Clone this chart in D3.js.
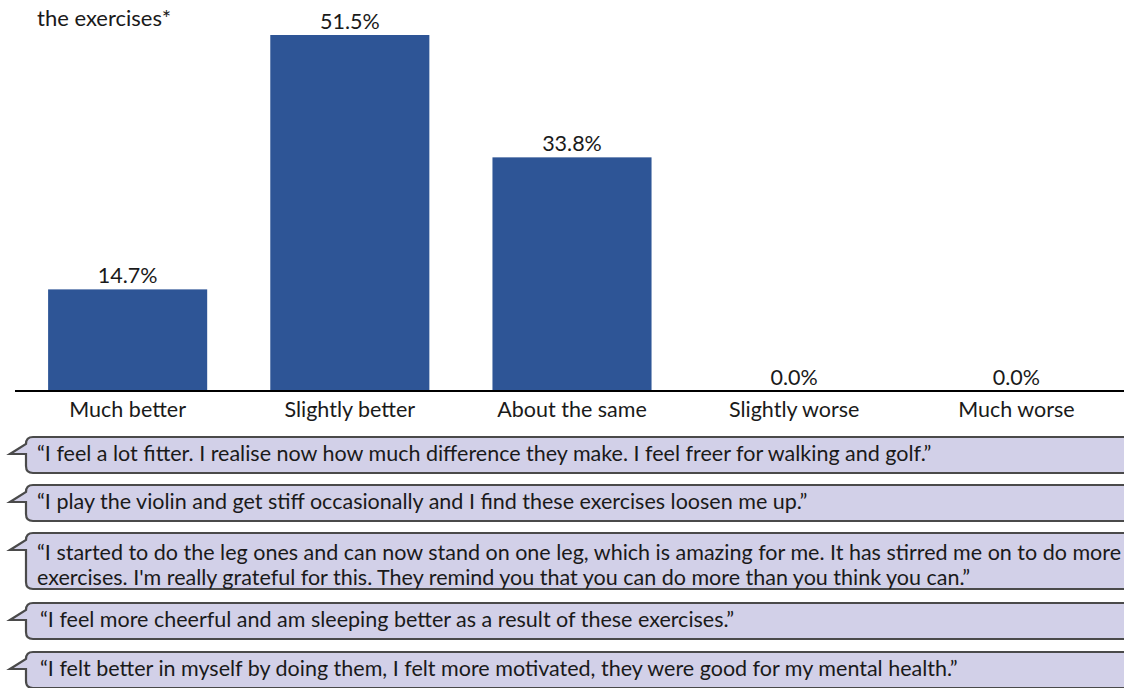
<!DOCTYPE html>
<html lang="en">
<head>
  <meta charset="UTF-8">
  <title>Perceived change after the exercises</title>
  <script src="https://d3js.org/d3.v7.min.js"></script>
  <style>
    body { margin: 0; background: #fff; }
    text { font-family: Lato, "Open Sans", sans-serif; fill: #1a1a1a; }
  </style>
</head>
<body>
  <div id="chart"></div>
  <script>
    // chart values
    const categories = ["Much better", "Slightly better", "About the same", "Slightly worse", "Much worse"];
    const percents = [14.7, 51.5, 33.8, 0.0, 0.0];
    const titleText = "the exercises*";

    // quotes shown in the speech bubbles (one array entry per line)
    const quotes = [
      ["\u201CI feel a lot fitter. I realise now how much difference they make. I feel freer for walking and golf.\u201D"],
      ["\u201CI play the violin and get stiff occasionally and I find these exercises loosen me up.\u201D"],
      ["\u201CI started to do the leg ones and can now stand on one leg, which is amazing for me. It has stirred me on to do more",
       "exercises. I'm really grateful for this. They remind you that you can do more than you think you can.\u201D"],
      ["\u201CI feel more cheerful and am sleeping better as a result of these exercises.\u201D"],
      ["\u201CI felt better in myself by doing them, I felt more motivated, they were good for my mental health.\u201D"]
    ];
    const bubbleTops = [437, 485, 533, 603, 652];

    const W = 1124, H = 688;
    const fs = "21.5px";
    const svg = d3.select("#chart").append("svg")
      .attr("width", W).attr("height", H);

    const baseY = 391;

    const x = d3.scaleBand()
      .domain(categories)
      .range([17, 1127])
      .paddingInner(0.284)
      .paddingOuter(0.14);

    const y = d3.scaleLinear()
      .domain([0, 51.5])
      .range([baseY, 35]);

    // title fragment (first line is cut off by the crop)
    svg.append("text")
      .attr("x", 37).attr("y", 26)
      .attr("font-size", "22px")
      .text(titleText);

    // bars
    svg.selectAll("rect.bar")
      .data(percents)
      .enter().append("rect")
      .attr("class", "bar")
      .attr("x", (d, i) => x(categories[i]))
      .attr("y", d => y(d))
      .attr("width", x.bandwidth())
      .attr("height", d => baseY - y(d))
      .attr("fill", "#2e5596");

    // value labels
    svg.selectAll("text.val")
      .data(percents)
      .enter().append("text")
      .attr("class", "val")
      .attr("x", (d, i) => x(categories[i]) + x.bandwidth() / 2)
      .attr("y", d => y(d) - 6)
      .attr("text-anchor", "middle")
      .attr("font-size", fs)
      .text(d => d.toFixed(1) + "%");

    // x axis
    const xAxis = svg.append("g")
      .attr("transform", `translate(0,${baseY})`)
      .call(d3.axisBottom(x).tickSize(0).tickPadding(11));
    xAxis.select(".domain").attr("d", "M15,0H1124").attr("stroke", "#000").attr("stroke-width", 2);
    xAxis.selectAll(".tick text")
      .attr("font-size", fs)
      .attr("font-family", "Lato, 'Open Sans', sans-serif")
      .attr("fill", "#1a1a1a");

    // speech bubbles
    const x0 = 26, r = 7, xr = 1140;
    function bubblePath(top, bottom) {
      const tipY = top + 17;
      return `M${xr},${top} L${x0 + r},${top} Q${x0},${top} ${x0},${top + r}
              L10,${tipY} L${x0},${tipY} L${x0},${bottom - r}
              Q${x0},${bottom} ${x0 + r},${bottom} L${xr},${bottom} Z`;
    }

    const bubbles = svg.selectAll("g.bubble")
      .data(quotes)
      .enter().append("g")
      .attr("class", "bubble");

    bubbles.append("path")
      .attr("d", (d, i) => bubblePath(bubbleTops[i], bubbleTops[i] + 16 + d.length * 20))
      .attr("fill", "#d2d0e8")
      .attr("stroke", "#4a4a4a")
      .attr("stroke-width", 2.2);

    bubbles.each(function (lines, i) {
      const t = d3.select(this).append("text")
        .attr("font-size", fs);
      lines.forEach((ln, j) => {
        t.append("tspan")
          .attr("x", i >= 3 ? 40 : 37)
          .attr("y", bubbleTops[i] + 24 + j * 25 + (lines.length - 1) * 3)
          .text(ln);
      });
    });
  </script>
</body>
</html>
